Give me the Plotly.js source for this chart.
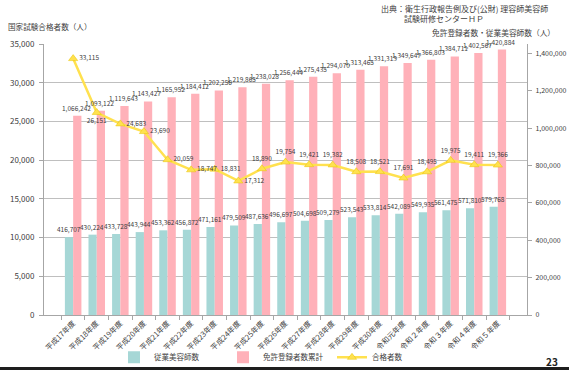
<!DOCTYPE html>
<html>
<head>
<meta charset="utf-8">
<script src="https://cdn.plot.ly/plotly-3.0.1.min.js"></script>
<style>
html,body{margin:0;padding:0;background:#fff;overflow:hidden;}
#wrap{position:relative;width:569px;height:370px;}
#chart{width:569px;height:370px;}
#band{position:absolute;left:0;bottom:0;width:569px;height:3.3px;background:#1e1e1e;}
</style>
</head>
<body>
<div id="wrap"><div id="chart"></div><div id="band"></div></div>
<script>
const categories = ['平成17年度','平成18年度','平成19年度','平成20年度','平成21年度','平成22年度','平成23年度','平成24年度','平成25年度','平成26年度','平成27年度','平成28年度','平成29年度','平成30年度','令和元年度','令和２年度','令和３年度','令和４年度','令和５年度'];
const employedBeauticians = [416707,430224,433728,443944,453362,456872,471161,479509,487636,496697,504698,509279,523543,533814,542089,549935,561475,571810,579768];
const licensedTotal = [1066242,1093122,1119643,1143427,1165952,1184412,1202256,1219865,1238028,1256444,1275435,1294070,1313465,1331313,1349647,1366803,1384711,1402567,1420884];
const passers = [33115,26151,24683,23690,20059,18747,18831,17312,18890,19754,19421,19382,18508,18521,17691,18495,19975,19411,19366];
const seriesNames = ['従業美容師数','免許登録者数累計','合格者数'];

const FONT = 'Noto Sans CJK JP, Noto Sans, sans-serif';
const TXT = '#404040';
const passerLabelPos = ['middle right','bottom center','middle right','middle right','middle right','middle right','middle right','middle right','top center','top center','top center','top center','top center','top center','top center','top center','top center','top center','top center'];

const fmt = v => v.toLocaleString('en-US');

const data = [
  {type:'bar', name:seriesNames[0], x:categories, y:employedBeauticians, xaxis:'x', yaxis:'y2',
   marker:{color:'#A6D7D6'}, hoverinfo:'skip'},
  {type:'bar', name:seriesNames[1], x:categories, y:licensedTotal, xaxis:'x', yaxis:'y2',
   marker:{color:'#FFB1B9'}, hoverinfo:'skip'},
  {type:'scatter', mode:'lines+markers+text', name:seriesNames[2], x:categories, y:passers, xaxis:'x', yaxis:'y3',
   line:{color:'#FFE14F', width:2.5}, marker:{symbol:'triangle-up', size:8, color:'#FFE14F', line:{color:'#E8C500', width:0.5}},
   texttemplate:'%{y:,}', textposition:passerLabelPos, cliponaxis:false,
   textfont:{size:6.5, color:TXT, family:FONT}, hoverinfo:'skip'},
  {type:'scatter', mode:'markers', x:[categories[0]], y:[null], xaxis:'x', yaxis:'y', showlegend:false, hoverinfo:'skip'}
];

const ML = 44, MR = 42, MT = 44, MB = 55;
const PW = 569 - ML - MR, PH = 370 - MT - MB;
const px = x => (x - ML) / PW;
const py = y => (370 - MB - y) / PH;

const barLabels = [];
categories.forEach((c, i) => {
  barLabels.push({text:fmt(employedBeauticians[i]), x:c, y:employedBeauticians[i], xref:'x', yref:'y2',
    xshift:-4.5, yshift:1, xanchor:'center', yanchor:'bottom', showarrow:false, font:{size:6.5, color:TXT}});
  barLabels.push({text:fmt(licensedTotal[i]), x:c, y:licensedTotal[i], xref:'x', yref:'y2',
    xshift:3, yshift:1, xanchor:'center', yanchor:'bottom', showarrow:false, font:{size:6.5, color:TXT}});
});

const layout = {
  width:569, height:370,
  margin:{l:ML, r:MR, t:MT, b:MB, pad:0, autoexpand:false},
  paper_bgcolor:'#fff', plot_bgcolor:'rgba(0,0,0,0)',
  font:{family:FONT, color:TXT, size:8},
  barmode:'group', bargap:0.3, bargroupgap:0,
  showlegend:true,
  legend:{orientation:'h', xref:'container', yref:'container', x:114/569, y:(370-357.3)/370, xanchor:'left', yanchor:'middle',
          font:{size:7.5, color:TXT, family:FONT}, entrywidth:64, itemwidth:30, traceorder:'normal', bgcolor:'rgba(0,0,0,0)'},
  xaxis:{type:'category', tickangle:-45, tickson:'boundaries', ticks:'outside', ticklen:4, tickcolor:'#A6A6A6',
         showline:true, linecolor:'#A6A6A6', linewidth:1, showgrid:false, tickfont:{size:7.5, color:TXT}, automargin:false},
  yaxis:{range:[0,35000], dtick:5000, tickformat:',', side:'left', showgrid:true, gridcolor:'#BFBFBF', gridwidth:1,
         showline:true, linecolor:'#A6A6A6', ticks:'outside', ticklen:4, tickcolor:'#A6A6A6', zeroline:false,
         tickfont:{size:8, color:TXT}, ticklabelstandoff:3, automargin:false},
  yaxis2:{range:[0,1451000], dtick:200000, tickformat:',', side:'right', overlaying:'y', showgrid:false,
          showline:true, linecolor:'#A6A6A6', ticks:'outside', ticklen:4, tickcolor:'#A6A6A6', zeroline:false,
          tickfont:{size:7, color:TXT}, ticklabelstandoff:2, automargin:false},
  yaxis3:{range:[0,35000], overlaying:'y', side:'left', showgrid:false, showticklabels:false, showline:false, zeroline:false, ticks:''},
  annotations:[
    {text:'国家試験合格者数（人）', xref:'paper', yref:'paper', x:px(6), y:py(27), xanchor:'left', yanchor:'middle', showarrow:false, font:{size:7.6, color:TXT}},
    {text:'出典：衛生行政報告例及び(公財) 理容師美容師', xref:'paper', yref:'paper', x:px(379), y:py(8), xanchor:'left', yanchor:'middle', showarrow:false, font:{size:8, color:TXT}},
    {text:'試験研修センターＨＰ', xref:'paper', yref:'paper', x:px(402), y:py(18.5), xanchor:'left', yanchor:'middle', showarrow:false, font:{size:8, color:TXT}},
    {text:'免許登録者数・従業美容師数（人）', xref:'paper', yref:'paper', x:px(557), y:py(32.5), xanchor:'right', yanchor:'middle', showarrow:false, font:{size:7.7, color:TXT}},
    {text:'<b>23</b>', xref:'paper', yref:'paper', x:px(552), y:py(361.5), xanchor:'center', yanchor:'middle', showarrow:false, font:{size:10, color:'#222'}}
  ].concat(barLabels)
};

Plotly.newPlot('chart', data, layout, {staticPlot:true, displayModeBar:false});
</script>
</body>
</html>
